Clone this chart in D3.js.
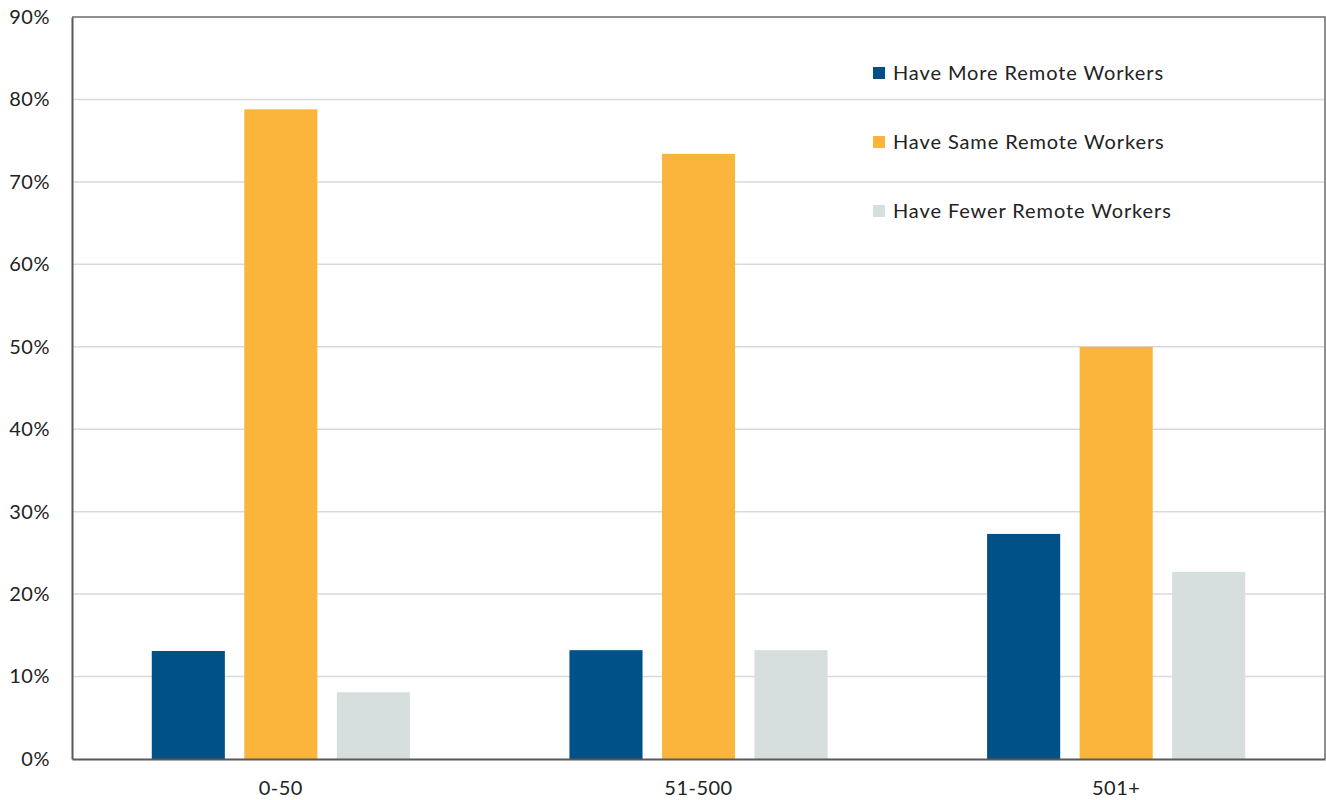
<!DOCTYPE html>
<html>
<head>
<meta charset="utf-8">
<script src="https://cdn.jsdelivr.net/npm/d3@7"></script>
<style>
  html, body { margin: 0; padding: 0; background: #fff; }
  svg { display: block; font-family: "Lato", "Open Sans", sans-serif; }
</style>
</head>
<body>
<svg id="chart" width="1326" height="800"></svg>
<script>
// Company size groups and share of respondents per remote-work outcome
const categories = ["0-50", "51-500", "501+"];
const seriesNames = ["Have More Remote Workers", "Have Same Remote Workers", "Have Fewer Remote Workers"];
const moreRemote = [0.131, 0.132, 0.273];
const sameRemote = [0.788, 0.734, 0.500];
const fewerRemote = [0.081, 0.132, 0.227];
const yTicks = [0, 0.1, 0.2, 0.3, 0.4, 0.5, 0.6, 0.7, 0.8, 0.9];
const colors = ["#015189", "#FBB43C", "#D6DEDE"];

const seriesValues = [moreRemote, sameRemote, fewerRemote];

const svg = d3.select("#chart");
const margin = { left: 72, right: 1, top: 17, bottom: 41 };
const W = 1326, H = 800;
const plotL = margin.left, plotR = W - margin.right, plotT = margin.top, plotB = H - margin.bottom;
const textFont = "Lato, 'Open Sans', sans-serif";

const y = d3.scaleLinear().domain([0, 0.9]).range([plotB, plotT]);
const x0 = d3.scaleBand().domain(categories).range([plotL, plotR])
  .paddingInner(0.382).paddingOuter(0.191);
const x1 = d3.scaleBand().domain(d3.range(seriesNames.length)).range([0, x0.bandwidth()])
  .paddingInner(0.21).paddingOuter(0);

// horizontal gridlines
svg.append("g")
  .selectAll("line")
  .data(yTicks.filter(t => t > 0 && t < 0.9))
  .join("line")
  .attr("x1", plotL).attr("x2", plotR)
  .attr("y1", d => y(d)).attr("y2", d => y(d))
  .attr("stroke", "#d9d9d9").attr("stroke-width", 1.5);

// legend
const legend = svg.append("g").attr("transform", "translate(873,0)");
const legendY = [73, 142, 211];
seriesNames.forEach((name, i) => {
  legend.append("rect")
    .attr("x", 0).attr("y", legendY[i] - 6)
    .attr("width", 12).attr("height", 12)
    .attr("fill", colors[i]);
  legend.append("text")
    .attr("x", 20).attr("y", legendY[i])
    .attr("dy", "0.35em")
    .attr("font-size", 20)
    .attr("letter-spacing", 0.9)
    .attr("fill", "#222")
    .text(name);
});

// bars
const groups = svg.append("g")
  .selectAll("g")
  .data(categories)
  .join("g")
  .attr("transform", d => `translate(${x0(d)},0)`);

groups.selectAll("rect")
  .data((c, ci) => seriesValues.map((vals, si) => ({ si, v: vals[ci] })))
  .join("rect")
  .attr("x", d => x1(d.si))
  .attr("width", x1.bandwidth())
  .attr("y", d => y(d.v))
  .attr("height", d => y(0) - y(d.v))
  .attr("fill", d => colors[d.si]);

// plot frame (top and right)
svg.append("path")
  .attr("d", `M${plotL},${plotT}H${plotR}V${plotB}`)
  .attr("fill", "none").attr("stroke", "#6b6b6b").attr("stroke-width", 1.5);

// y axis
const yAxis = d3.axisLeft(y).tickValues(yTicks).tickFormat(d3.format(".0%")).tickSize(0).tickPadding(22);
const gy = svg.append("g").attr("transform", `translate(${plotL},0)`).call(yAxis);
gy.select(".domain").attr("stroke", "#595959").attr("stroke-width", 2);
gy.selectAll("text").attr("font-size", 20).attr("letter-spacing", 0.5).attr("fill", "#222").attr("font-family", textFont);

// x axis
const xAxis = d3.axisBottom(x0).tickSize(0).tickPadding(22);
const gx = svg.append("g").attr("transform", `translate(0,${plotB})`).call(xAxis);
gx.select(".domain").attr("stroke", "#595959").attr("stroke-width", 2);
gx.selectAll("text").attr("font-size", 20).attr("letter-spacing", 0.5).attr("fill", "#222").attr("font-family", textFont);
</script>
</body>
</html>
